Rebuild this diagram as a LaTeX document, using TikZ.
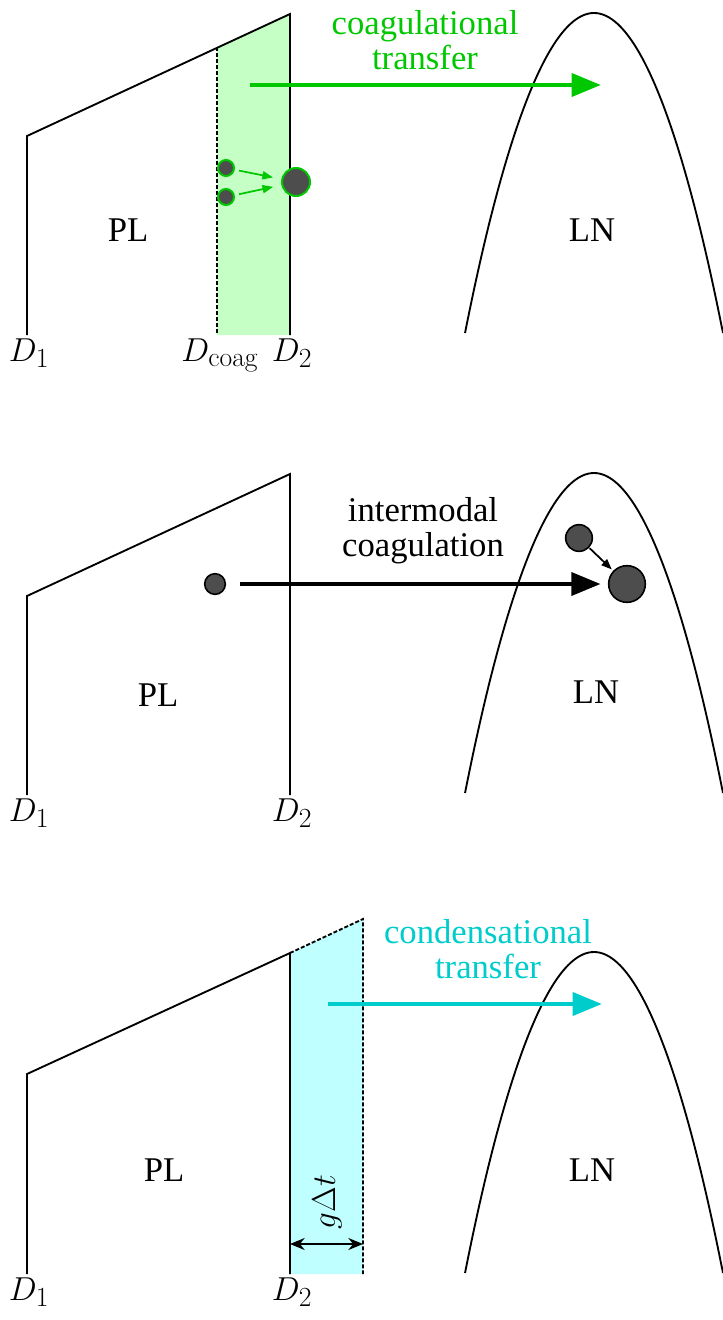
\documentclass[tikz,border=0pt]{standalone}
\usepackage[no-math]{fontspec}
\setmainfont{Liberation Serif}
\usetikzlibrary{arrows.meta}

\definecolor{coaggreen}{RGB}{0,200,0}
\definecolor{coagfill}{RGB}{198,255,198}
\definecolor{condcyan}{RGB}{0,204,204}
\definecolor{condfill}{RGB}{192,255,255}
\definecolor{partgray}{RGB}{77,77,77}

\begin{document}
\begin{tikzpicture}[x=0.75pt,y=-0.75pt,font=\fontsize{26}{26}\selectfont]

\tikzset{
  mode line/.style={line width=1.4pt},
  bound line/.style={line width=1.4pt, dash pattern=on 3pt off 1.5pt},
  big arrow/.style={line width=3.6pt, -{Triangle[length=22pt,width=17pt]}},
  small arrow/.style={line width=1.3pt, -{Triangle[length=8pt,width=6pt]}},
  label node/.style={inner sep=2pt, outer sep=0pt},
  size label/.style={label node, font=\fontsize{30}{30}\selectfont},
  particle/.style={circle, fill=partgray, draw, line width=1.2pt, inner sep=0pt, outer sep=0pt},
}

\useasboundingbox (0,0) rectangle (723,1320);

% Panel 1: coagulational transfer
\fill[coagfill] (217,47) -- (290,14) -- (290,335) -- (217,335) -- cycle;
\draw[mode line] (27,335) -- (27,136) -- (290,14) -- (290,335);
\draw[bound line] (217,47) -- (217,335);
\draw[mode line] (465,333) parabola bend (594,13) (723,333);

\node[label node] (plA) at (128,230) {PL};
\node[label node] (lnA) at (592,230) {LN};
\node[size label, anchor=north] (dA1) at (29,336) {$D_1$};
\node[size label, anchor=north] (dAc) at (220,336) {$D_{\mathrm{coag}}$};
\node[size label, anchor=north] (dA2) at (292,336) {$D_2$};

\node[particle, draw=coaggreen, line width=1.5pt, minimum size=12pt] (sA1) at (226,168) {};
\node[particle, draw=coaggreen, line width=1.5pt, minimum size=12pt] (sA2) at (226,197) {};
\node[particle, draw=coaggreen, line width=1.5pt, minimum size=21pt] (bA) at (296,182) {};
\draw[coaggreen, small arrow, shorten <=4pt, shorten >=7pt] (sA1) -- (bA);
\draw[coaggreen, small arrow, shorten <=4pt, shorten >=7pt] (sA2) -- (bA);

\coordinate (tA1) at (250,85);
\coordinate (tA2) at (601,85);
\draw[coaggreen, big arrow] (tA1) -- (tA2);
\node[label node, text=coaggreen, align=center] (tA) at (425,40) {coagulational\\transfer};

% Panel 2: intermodal coagulation
\draw[mode line] (27,795) -- (27,596) -- (290,474) -- (290,795);
\draw[mode line] (465,793) parabola bend (594,473) (723,793);

\node[label node] (plB) at (158,695) {PL};
\node[label node] (lnB) at (596,692) {LN};
\node[size label, anchor=north] (dB1) at (29,796) {$D_1$};
\node[size label, anchor=north] (dB2) at (292,796) {$D_2$};

\node[particle, minimum size=15.5pt] (sB) at (215,584) {};
\node[particle, minimum size=20pt] (mB) at (579,538) {};
\node[particle, minimum size=27.5pt] (bB) at (627,584) {};
\draw[small arrow, shorten <=1pt, shorten >=2pt] (mB) -- (bB);
\draw[big arrow, shorten <=11pt, shorten >=6pt] (sB) -- (bB);
\node[label node, align=center] (tB) at (423,531) {intermodal\\coagulation};

% Panel 3: condensational transfer
\fill[condfill] (290,953) -- (363,919) -- (363,1274) -- (290,1274) -- cycle;
\draw[mode line] (27,1274) -- (27,1074) -- (290,953) -- (290,1274);
\draw[bound line] (290,953) -- (363,919) -- (363,1274);
\draw[mode line] (465,1273) parabola bend (594,952) (723,1273);

\node[label node] (plC) at (164,1170) {PL};
\node[label node] (lnC) at (592,1170) {LN};
\node[size label, anchor=north] (dC1) at (29,1275) {$D_1$};
\node[size label, anchor=north] (dC2) at (292,1275) {$D_2$};

\coordinate (tC1) at (328,1004);
\coordinate (tC2) at (602,1004);
\draw[condcyan, big arrow] (tC1) -- (tC2);
\node[label node, text=condcyan, align=center] (tC) at (488,949) {condensational\\transfer};

\coordinate (gC1) at (290,1244);
\coordinate (gC2) at (363,1244);
\draw[line width=1.4pt, {Stealth[length=11pt,width=9pt]}-{Stealth[length=11pt,width=9pt]}] (gC1) -- (gC2);
\node[size label, rotate=90] (gC) at (327,1202) {$g\Delta t$};

\end{tikzpicture}
\end{document}
